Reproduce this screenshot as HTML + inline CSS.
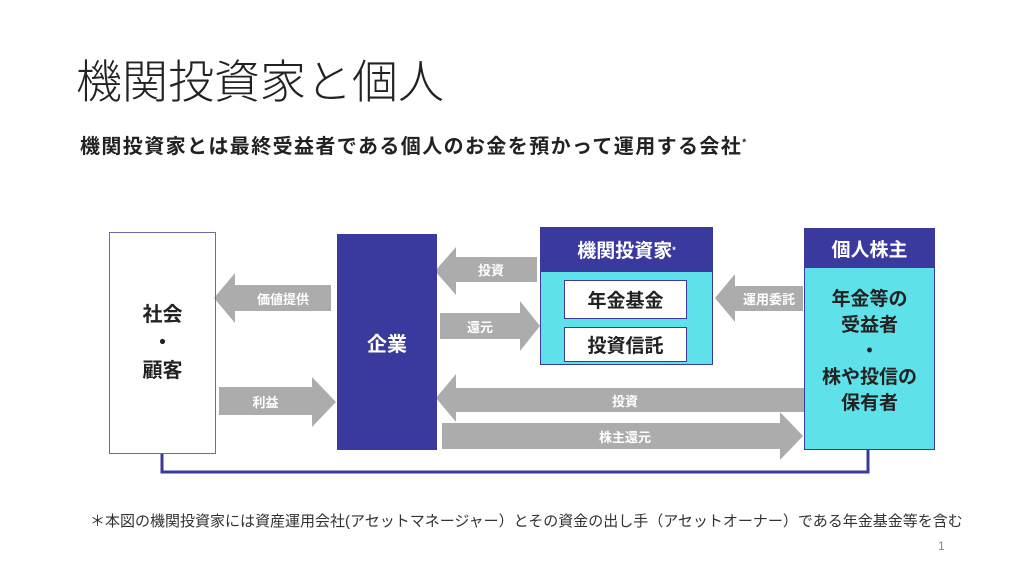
<!DOCTYPE html>
<html><head><meta charset="utf-8"><style>
body{margin:0;width:1024px;height:572px;background:#fff;overflow:hidden;position:relative;font-family:"Liberation Sans","Noto Sans CJK JP",sans-serif;}
.a{position:absolute}
.t{position:absolute;display:flex;align-items:center;justify-content:center;text-align:center}
</style></head><body>
<div class="a" style="left:76px;top:46px;font-size:46px;color:#222;font-weight:300;">機関投資家と個人</div>
<div class="a" style="left:80px;top:130px;font-size:20px;letter-spacing:1.4px;font-weight:bold;color:#222;">機関投資家とは最終受益者である個人のお金を預かって運用する会社<sup style="font-size:10px">*</sup></div>

<svg class="a" style="left:0;top:0" width="1024" height="572">
<g fill="#acacac">
<polygon points="214,298 235,273 235,285 331,285 331,311 235,311 235,323"/>
<polygon points="435,271 456,247 456,257 537,257 537,282 456,282 456,295"/>
<polygon points="540,326 520,301 520,313 440,313 440,339 520,339 520,351"/>
<polygon points="336,402 312,377 312,387 219,387 219,415 312,415 312,427"/>
<polygon points="436,398 456,374 456,388 806,388 806,412 456,412 456,422"/>
<polygon points="803,436 780,412 780,423 442,423 442,449 780,449 780,460"/>
<polygon points="715,298 735,274 735,286 803,286 803,311 735,311 735,322"/>
</g>
<polyline points="162,454 162,472 868,472 868,450" fill="none" stroke="#3a3a9e" stroke-width="3"/>
</svg>

<div class="t" style="left:109px;top:232px;width:105px;height:220px;border:1px solid #6a6ab0;font-size:20px;font-weight:bold;line-height:28px;color:#222">社会<br>・<br>顧客</div>
<div class="t" style="left:337px;top:234px;width:100px;height:216px;background:#3a3a9e;color:#fff;font-size:20px;font-weight:bold">企業</div>

<div class="a" style="left:540px;top:227px;width:171px;height:136px;background:#5fe1ea;border:1px solid #3a3a9e"></div>
<div class="t" style="left:540px;top:227px;width:173px;height:45px;background:#3a3a9e;color:#fff;font-size:19px;font-weight:bold">機関投資家<sup style="font-size:9px">*</sup></div>
<div class="t" style="left:564px;top:280px;width:121px;height:37px;background:#fff;border:1px solid #3a3a9e;font-size:19px;font-weight:bold;color:#222">年金基金</div>
<div class="t" style="left:564px;top:327px;width:121px;height:33px;background:#fff;border:1px solid #3a3a9e;font-size:19px;font-weight:bold;color:#222">投資信託</div>

<div class="a" style="left:804px;top:228px;width:129px;height:220px;background:#5fe1ea;border:1px solid #3a3a9e"></div>
<div class="t" style="left:804px;top:228px;width:131px;height:40px;background:#3a3a9e;color:#fff;font-size:19px;font-weight:bold">個人株主</div>
<div class="t" style="left:804px;top:282px;width:131px;height:140px;font-size:19px;font-weight:bold;line-height:26px;color:#222">年金等の<br>受益者<br>・<br>株や投信の<br>保有者</div>

<div class="t" style="left:235px;top:285px;width:96px;height:26px;color:#fff;font-size:13px;font-weight:bold">価値提供</div>
<div class="t" style="left:456px;top:257px;width:70px;height:25px;color:#fff;font-size:13px;font-weight:bold">投資</div>
<div class="t" style="left:440px;top:313px;width:80px;height:26px;color:#fff;font-size:13px;font-weight:bold">還元</div>
<div class="t" style="left:219px;top:387px;width:93px;height:28px;color:#fff;font-size:13px;font-weight:bold">利益</div>
<div class="t" style="left:735px;top:286px;width:68px;height:25px;color:#fff;font-size:13px;font-weight:bold">運用委託</div>
<div class="t" style="left:580px;top:388px;width:90px;height:24px;color:#fff;font-size:13px;font-weight:bold">投資</div>
<div class="t" style="left:570px;top:423px;width:110px;height:26px;color:#fff;font-size:13px;font-weight:bold">株主還元</div>

<div class="a" style="left:90px;top:510px;font-size:15px;color:#333">＊本図の機関投資家には資産運用会社(アセットマネージャー）とその資金の出し手（アセットオーナー）である年金基金等を含む</div>
<div class="a" style="left:938px;top:539px;font-size:12px;color:#888">1</div>
</body></html>
